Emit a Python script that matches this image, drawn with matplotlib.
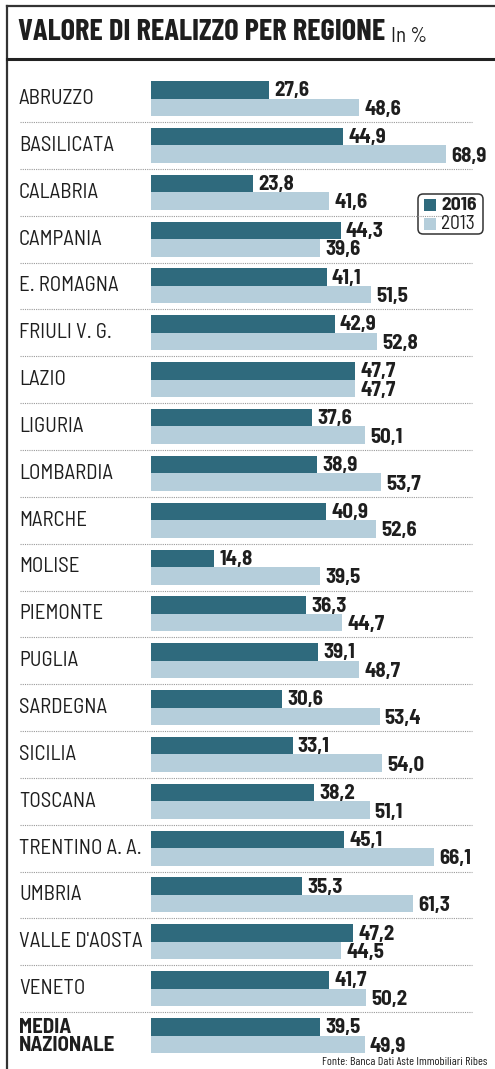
import matplotlib.pyplot as plt
from matplotlib.patches import FancyBboxPatch, Rectangle

regions = ['ABRUZZO', 'BASILICATA', 'CALABRIA', 'CAMPANIA', 'E. ROMAGNA',
           'FRIULI V. G.', 'LAZIO', 'LIGURIA', 'LOMBARDIA', 'MARCHE', 'MOLISE',
           'PIEMONTE', 'PUGLIA', 'SARDEGNA', 'SICILIA', 'TOSCANA',
           'TRENTINO A. A.', 'UMBRIA', "VALLE D'AOSTA", 'VENETO',
           'MEDIA\nNAZIONALE']
v2016 = [27.6, 44.9, 23.8, 44.3, 41.1, 42.9, 47.7, 37.6, 38.9, 40.9, 14.8,
         36.3, 39.1, 30.6, 33.1, 38.2, 45.1, 35.3, 47.2, 41.7, 39.5]
v2013 = [48.6, 68.9, 41.6, 39.6, 51.5, 52.8, 47.7, 50.1, 53.7, 52.6, 39.5,
         44.7, 48.7, 53.4, 54.0, 51.1, 66.1, 61.3, 44.5, 50.2, 49.9]
years = ['2016', '2013']

dark = '#2f6a7d'
light = '#b5cedb'
ink = '#1e1e1e'
cond = ['Barlow Condensed', 'DejaVu Sans']
semi = ['Barlow Semi Condensed', 'DejaVu Sans']
plt.rcParams['font.family'] = cond

W, H = 495, 1069
fig = plt.figure(figsize=(W / 100, H / 100), dpi=100)
ax = fig.add_axes([0, 0, 1, 1])

# x in percent, 0 at 151 px, ~4.28 px per point; y in pixels from top
px = 4.28
x0 = 151
ax.set_xlim(-x0 / px, (W - x0) / px)
ax.set_ylim(H, 0)
ax.axis('off')

def fx(p):
    return (p - x0) / px

def fit_width(txt, width):
    # rescale a text so that it spans the given width in pixels
    fig.canvas.draw()
    w = txt.get_window_extent().width
    txt.set_fontsize(txt.get_fontsize() * width / w)

pitch = 46.85
top = 81
bh = 17.5
for i, (name, a, b) in enumerate(zip(regions, v2016, v2013)):
    y = top + i * pitch
    ax.barh(y + bh / 2, a, height=bh, left=0, color=dark, linewidth=0)
    ax.barh(y + bh * 1.5, b, height=bh, left=0, color=light, linewidth=0)
    ax.text(a + 5 / px, y + bh / 2 + 1, f'{a:.1f}'.replace('.', ','),
            fontsize=15, family=semi, fontweight='bold', color=ink,
            va='center', ha='left')
    ax.text(b + 5 / px, y + bh * 1.5 + 2, f'{b:.1f}'.replace('.', ','),
            fontsize=15, family=semi, fontweight='bold', color=ink,
            va='center', ha='left')
    last = i == len(regions) - 1
    ax.text(fx(19), y + bh + (1 if last else 0), name, fontsize=15,
            family=semi if last else semi,
            fontweight='bold' if last else 'normal', color=ink,
            va='center', ha='left', linespacing=0.9)
    if not last:
        ax.plot([fx(20), fx(472)], [y + bh * 2 + 6] * 2, color='#9a9a9a',
                lw=0.8, ls=(0, (1, 1)))

# frame and title
ax.plot([fx(7), fx(7)], [6, H], color='#333333', lw=1.6, clip_on=False)
ax.plot([fx(7), fx(W)], [6, 6], color='#333333', lw=1.6)
ax.plot([fx(7), fx(W)], [59, 59], color='#222222', lw=2.2)
t = ax.text(fx(18), 33, 'VALORE DI REALIZZO PER REGIONE', fontsize=27,
            fontweight='bold', color=ink, va='center', ha='left')
fit_width(t, 367)
fig.canvas.draw()
bb = t.get_window_extent()
ax.text(fx(bb.x1 + 6), 36, 'In %', fontsize=15, family=semi, color=ink,
        va='center', ha='left')

# legend
ax.add_patch(FancyBboxPatch((fx(418), 194), (483 - 418) / px, 40,
                            boxstyle='round,pad=0,rounding_size=1.2',
                            mutation_aspect=px, fc='white', ec='#333333',
                            lw=1.1))
for k, (lab, col) in enumerate(zip(years, [dark, light])):
    yy = 205 + k * 19
    ax.add_patch(Rectangle((fx(424), yy - 6), 12 / px, 12, color=col, lw=0))
    ax.text(fx(441), yy, lab, fontsize=14, family=semi,
            fontweight='bold' if k == 0 else 'normal', color=ink,
            va='center', ha='left')

src = ax.text(fx(487), 1062, 'Fonte: Banca Dati Aste Immobiliari Ribes',
              fontsize=10, color=ink, va='center', ha='right')
fit_width(src, 164)

fig.savefig('out.png', dpi=100)
